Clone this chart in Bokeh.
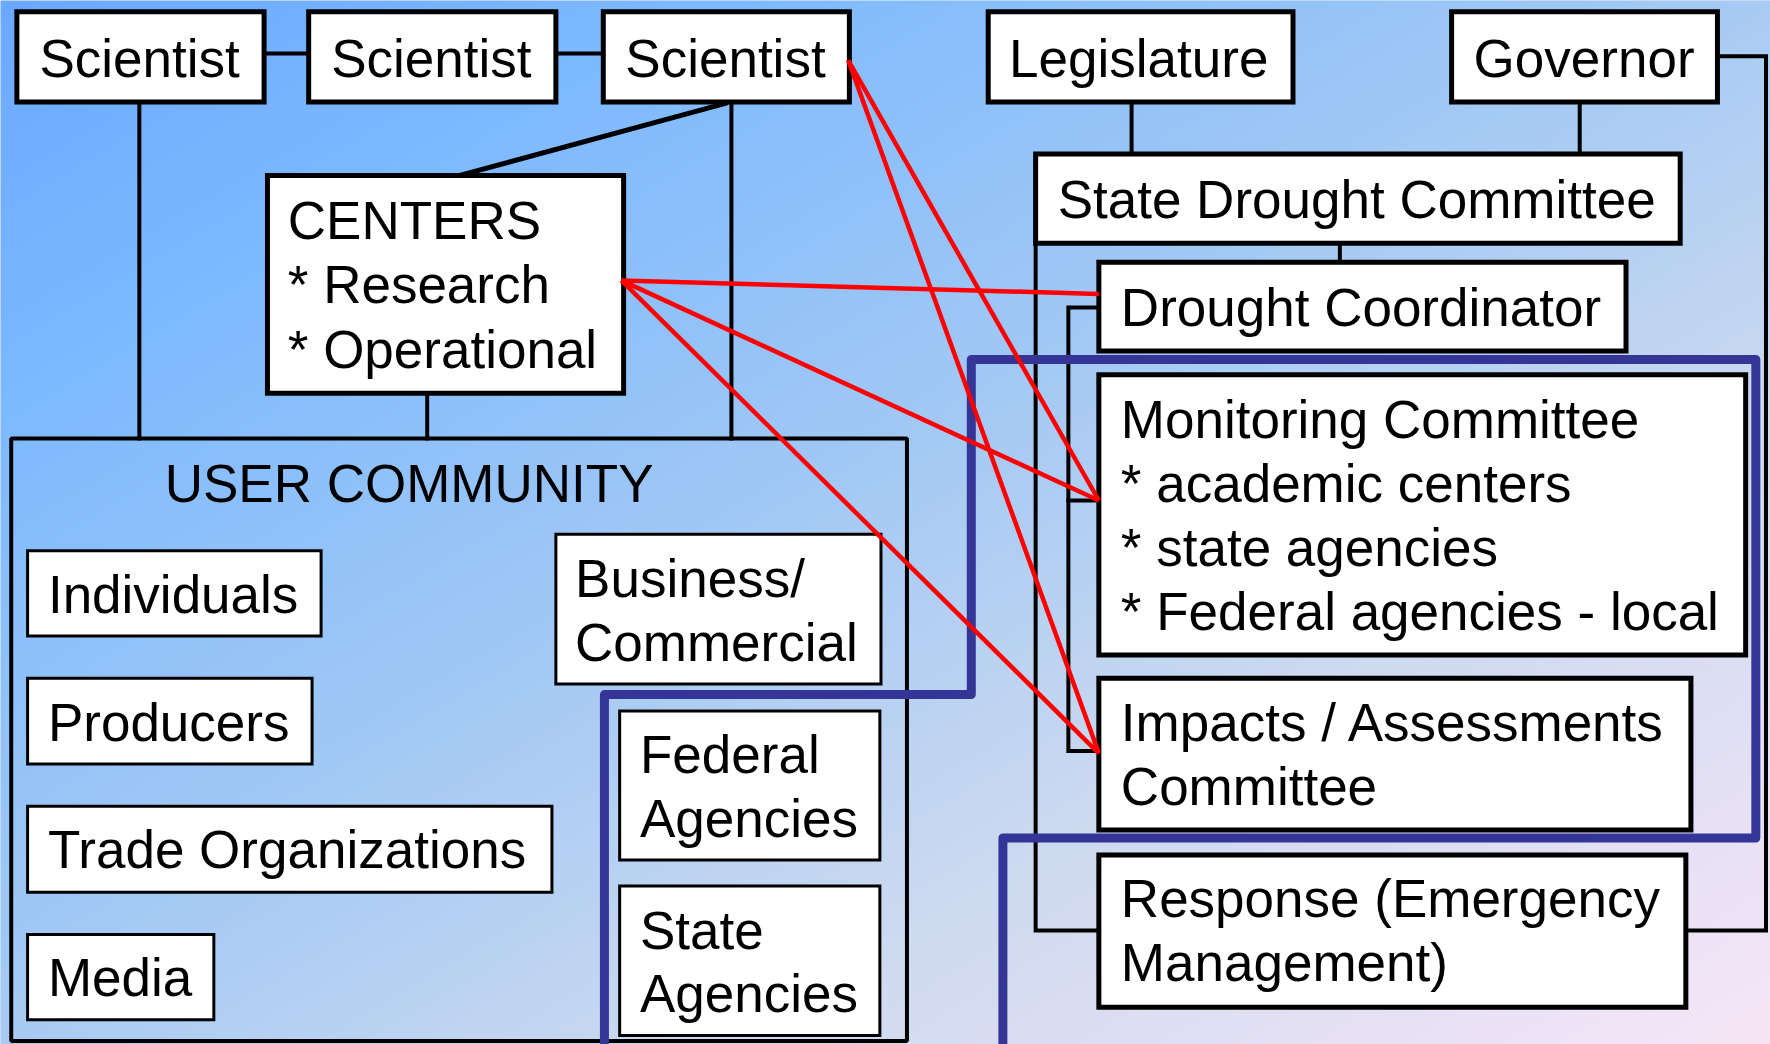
import numpy as np
from bokeh.plotting import figure
from bokeh.models import Range1d, ColumnDataSource
from bokeh.core.properties import value
from bokeh.embed import file_html
from bokeh.resources import INLINE

# ---------------- content (labels) ----------------
scientist_labels = ["Scientist", "Scientist", "Scientist"]
state_top_labels = ["Legislature", "Governor"]
committee_labels = ["State Drought Committee", "Drought Coordinator"]
monitoring_lines = ["Monitoring Committee", "* academic centers", "* state agencies",
                    "* Federal agencies - local"]
impacts_lines = ["Impacts / Assessments", "Committee"]
response_lines = ["Response (Emergency", "Management)"]
centers_lines = ["CENTERS", "* Research", "* Operational"]
user_title = ["USER COMMUNITY"]
user_groups = ["Individuals", "Producers", "Trade Organizations", "Media"]
business_lines = ["Business/", "Commercial"]
federal_lines = ["Federal", "Agencies"]
state_ag_lines = ["State", "Agencies"]

# ---------------- layout (units: reference px / 1.1288) ----------------
FONT = "53px"
TEXT_SHIFT_Y = -16.5   # compensates the renderer's baseline placement
TEXT_SHIFT_X = -2.0

def Y(v):
    return [-a for a in v]

# main boxes: left, right, top, bottom
main_boxes = [
    (14.5, 233.5, 10, 90), (273, 492, 10, 90), (534, 752, 10, 90),
    (875, 1145, 10, 90), (1285.5, 1521, 10, 90),
    (917, 1488, 136, 215), (973, 1440, 232, 310.5),
    (973, 1546, 331.5, 580), (973, 1497.5, 600.5, 735), (973, 1493, 757, 892),
    (236.5, 552, 155, 348),
]
inner_boxes = [
    (24, 284, 487.5, 563), (24, 276, 600.5, 676.5), (24, 488.5, 714, 790), (24, 189, 827.5, 903),
    (492, 780, 473, 605.5), (548.5, 779, 629.5, 761.5), (548.5, 779, 784.5, 917),
]

texts, tx, ty = [], [], []
def put(lines, x, ys):
    for s, yy in zip(lines, ys):
        texts.append(s); tx.append(x + TEXT_SHIFT_X); ty.append(yy + TEXT_SHIFT_Y)

for lab, x in zip(scientist_labels, [36.5, 295, 555.5]):
    put([lab], x, [67.5])
for lab, x in zip(state_top_labels, [895.5, 1307]):
    put([lab], x, [67.5])
put([committee_labels[0]], 938.5, [192.5])
put([committee_labels[1]], 994.5, [288.5])
put(monitoring_lines, 994.5, [387.5, 444.5, 501, 557.5])
put(impacts_lines, 994.5, [656, 712.5])
put(response_lines, 994.5, [812.5, 869])
put(centers_lines, 256.5, [211.5, 268.5, 325.5])
put(user_title, 147.5, [444.5])
put(user_groups, 44, [543, 656, 769, 882.5])
put(business_lines, 511, [528.5, 585])
put(federal_lines, 568.5, [684.5, 741])
put(state_ag_lines, 568.5, [840.5, 896.5])

connectors_x = [
    [233.5, 273], [492, 534],
    [123, 123], [647.5, 647.5], [378, 378],
    [1002, 1002], [1399, 1399],
    [1521, 1564, 1564, 1493],
    [917, 917, 973],
    [1186.5, 1186.5],
    [973, 946, 946, 973], [946, 973],
]
connectors_y = [
    [47, 47], [47, 47],
    [90, 388], [90, 388], [348, 388],
    [90, 136], [90, 136],
    [49.5, 49.5, 824, 824],
    [215, 824, 824],
    [215, 232],
    [272, 272, 665, 665], [443, 443],
]
diag_x, diag_y = [643, 407], [91, 155]

red_x = [[751, 973], [751, 973], [550, 973], [550, 973], [550, 973]]
red_y = [[53, 443], [53, 667], [248, 260], [248, 443], [248, 667]]

navy_x = [888, 888, 1555, 1555, 860, 860, 535, 535]
navy_y = [935, 742, 742, 318, 318, 615, 615, 935]

# ---------------- figure ----------------
W, H = 1568.0, 925.0
p = figure(width=1770, height=1044, output_backend="svg", toolbar_location=None,
           x_range=Range1d(0, W), y_range=Range1d(-H, 0),
           x_axis_type=None, y_axis_type=None, min_border=0)
p.grid.visible = False
p.outline_line_color = None
p.background_fill_color = "#a4c8f0"
p.border_fill_color = "#a4c8f0"

# background diagonal gradient
N, M = 320, 540
xs = (np.arange(M) + 0.5) / M
ys_pix = 1.0 - (np.arange(N) + 0.5) / N      # row 0 = bottom
T = (xs[None, :] + ys_pix[:, None]) / 2.0
stops = [0.0, 0.2, 0.45, 0.7, 1.0]
R = np.interp(T, stops, [108, 126, 160, 205, 248])
G = np.interp(T, stops, [168, 186, 200, 218, 230])
B = np.interp(T, stops, [255, 255, 245, 240, 248])
img = np.empty((N, M), dtype=np.uint32)
v = img.view(dtype=np.uint8).reshape((N, M, 4))
v[..., 0] = R.astype(np.uint8)
v[..., 1] = G.astype(np.uint8)
v[..., 2] = B.astype(np.uint8)
v[..., 3] = 255
p.image_rgba(image=[img], x=0, y=-H, dw=W, dh=H)

# black connectors
p.multi_line(xs=connectors_x, ys=[Y(a) for a in connectors_y], line_color="black",
             line_width=4, line_join="miter", line_cap="square")
p.line(diag_x, Y(diag_y), line_color="black", line_width=5, line_cap="round")

# user community frame
p.quad(left=[9.5], right=[803], top=[-388], bottom=[-922], fill_color=None,
       line_color="black", line_width=4)

# boxes
mb = ColumnDataSource(dict(l=[b[0] for b in main_boxes], r=[b[1] for b in main_boxes],
                           t=[-b[2] for b in main_boxes], b=[-b[3] for b in main_boxes]))
p.quad(left="l", right="r", top="t", bottom="b", source=mb, fill_color="white",
       line_color="black", line_width=5, line_join="miter")
ib = ColumnDataSource(dict(l=[b[0] for b in inner_boxes], r=[b[1] for b in inner_boxes],
                           t=[-b[2] for b in inner_boxes], b=[-b[3] for b in inner_boxes]))
p.quad(left="l", right="r", top="t", bottom="b", source=ib, fill_color="white",
       line_color="black", line_width=3, line_join="miter")

# texts
ts = ColumnDataSource(dict(x=tx, y=Y(ty), text=texts))
p.text(x="x", y="y", text="text", source=ts, text_font=value("Liberation Sans"),
       text_font_size=FONT, text_color="black", text_baseline="alphabetic",
       text_align="left")

# navy outline
p.line(navy_x, Y(navy_y), line_color="#353597", line_width=9, line_join="round")

# red links
p.multi_line(xs=red_x, ys=[Y(a) for a in red_y], line_color="#ff0000", line_width=4.5)

open("out.html", "w").write(file_html(p, INLINE))
